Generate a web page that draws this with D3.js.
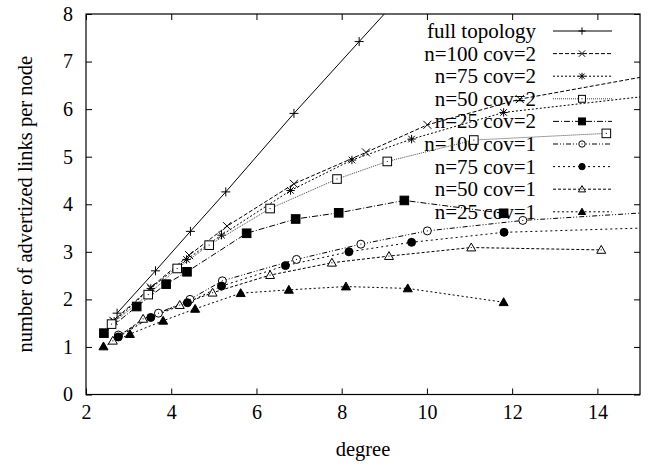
<!DOCTYPE html>
<html>
<head>
<meta charset="utf-8">
<script src="https://cdn.jsdelivr.net/npm/d3@7/dist/d3.min.js"></script>
<style>
  html, body { margin: 0; padding: 0; background: #fff; }
  text { font-family: "Liberation Serif", "Tinos", "Times New Roman", "DejaVu Serif", "Noto Serif", serif; fill: #000; }
</style>
</head>
<body>
<svg id="chart" width="659" height="466"></svg>
<script>
// ---- data ----
const xTickValues = [2, 4, 6, 8, 10, 12, 14];
const yTickValues = [0, 1, 2, 3, 4, 5, 6, 7, 8];
const xLabel = "degree";
const yLabel = "number of advertized links per node";

const seriesNames = ["full topology", "n=100 cov=2", "n=75 cov=2", "n=50 cov=2", "n=25 cov=2",
                     "n=100 cov=1", "n=75 cov=1", "n=50 cov=1", "n=25 cov=1"];

const fullX = [2.73, 3.63, 4.45, 5.28, 6.88, 8.41, 10.2];
const fullY = [1.71, 2.60, 3.43, 4.26, 5.91, 7.42, 9.18];

const n100c2X = [2.64, 3.52, 4.42, 5.31, 6.88, 8.57, 10.01, 12.18, 16.5];
const n100c2Y = [1.55, 2.25, 2.93, 3.54, 4.43, 5.09, 5.67, 6.21, 6.91];

const n75c2X = [2.66, 3.52, 4.36, 5.18, 6.80, 8.24, 9.64, 11.80, 16.5];
const n75c2Y = [1.54, 2.23, 2.84, 3.35, 4.29, 4.93, 5.37, 5.93, 6.41];

const n50c2X = [2.60, 3.46, 4.14, 4.89, 6.32, 7.89, 9.07, 11.10, 14.21];
const n50c2Y = [1.48, 2.10, 2.65, 3.14, 3.91, 4.53, 4.90, 5.35, 5.49];

const n25c2X = [2.42, 3.19, 3.88, 4.37, 5.77, 6.92, 7.93, 9.47, 11.80];
const n25c2Y = [1.29, 1.85, 2.32, 2.58, 3.39, 3.69, 3.82, 4.08, 3.81];

const n100c1X = [2.76, 3.70, 4.44, 5.20, 6.94, 8.45, 10.01, 12.25, 16.5];
const n100c1Y = [1.25, 1.71, 2.00, 2.39, 2.84, 3.16, 3.44, 3.66, 3.90];

const n75c1X = [2.76, 3.52, 4.38, 5.18, 6.68, 8.17, 9.64, 11.81, 16.5];
const n75c1Y = [1.21, 1.62, 1.93, 2.28, 2.71, 3.00, 3.20, 3.41, 3.54];

const n50c1X = [2.63, 3.34, 4.20, 4.97, 6.32, 7.77, 9.11, 11.04, 14.09];
const n50c1Y = [1.13, 1.59, 1.88, 2.14, 2.51, 2.77, 2.91, 3.09, 3.04];

const n25c1X = [2.41, 3.03, 3.81, 4.56, 5.63, 6.76, 8.10, 9.55, 11.80];
const n25c1Y = [1.01, 1.27, 1.55, 1.80, 2.13, 2.20, 2.27, 2.23, 1.94];

const seriesX = [fullX, n100c2X, n75c2X, n50c2X, n25c2X, n100c1X, n75c1X, n50c1X, n25c1X];
const seriesY = [fullY, n100c2Y, n75c2Y, n50c2Y, n25c2Y, n100c1Y, n75c1Y, n50c1Y, n25c1Y];

// ---- styles ----
const markerTypes = ["plus", "cross", "star", "square", "squareFilled", "circle", "circleFilled", "triangle", "triangleFilled"];
const dashes = ["none", "4,2", "2,2", "1,1", "6,2,1,2", "5,2,1,2,1,2", "2,3", "3,2", "2,2.5"];
const strokes = ["#000", "#000", "#000", "#444", "#000", "#000", "#000", "#000", "#000"];
const FONT = '"Liberation Serif", "Tinos", "Times New Roman", "DejaVu Serif", "Noto Serif", serif';

// ---- layout ----
const M = { left: 86, right: 640, top: 14, bottom: 394.5 };
const svg = d3.select("#chart");
svg.append("rect").attr("width", 659).attr("height", 466).attr("fill", "#fff");

const x = d3.scaleLinear().domain([2, 15]).range([M.left, M.right]);
const y = d3.scaleLinear().domain([0, 8]).range([M.bottom, M.top]);

svg.append("clipPath").attr("id", "plotclip")
  .append("rect").attr("x", M.left).attr("y", M.top)
  .attr("width", M.right - M.left).attr("height", M.bottom - M.top);

// axes with inward ticks (and mirrored)
const tickLen = 6;
const fontTick = 20;
const gx = svg.append("g").attr("transform", `translate(0,${M.bottom})`)
  .call(d3.axisBottom(x).tickValues(xTickValues).tickSize(-tickLen).tickPadding(10).tickFormat(d3.format("d")));
const gxt = svg.append("g").attr("transform", `translate(0,${M.top})`)
  .call(d3.axisTop(x).tickValues(xTickValues).tickSize(-tickLen).tickFormat(""));
const gy = svg.append("g").attr("transform", `translate(${M.left},0)`)
  .call(d3.axisLeft(y).tickValues(yTickValues).tickSize(-tickLen).tickPadding(13).tickFormat(d3.format("d")));
const gyr = svg.append("g").attr("transform", `translate(${M.right},0)`)
  .call(d3.axisRight(y).tickValues(yTickValues).tickSize(-tickLen).tickFormat(""));
[gx, gxt, gy, gyr].forEach(g => {
  g.attr("font-family", null);
  g.select(".domain").remove();
  g.selectAll(".tick line").attr("stroke", "#000").attr("stroke-width", 1);
  g.selectAll("text").style("font-family", FONT).style("font-size", fontTick + "px").attr("fill", "#000");
});
svg.append("rect").attr("x", M.left).attr("y", M.top)
  .attr("width", M.right - M.left).attr("height", M.bottom - M.top)
  .attr("fill", "none").attr("stroke", "#000").attr("stroke-width", 1.2);

// axis titles
svg.append("text").attr("x", (M.left + M.right) / 2).attr("y", 456)
  .attr("text-anchor", "middle").style("font-family", FONT).style("font-size", "20.5px").text(xLabel);
svg.append("text").attr("transform", `translate(32,${(M.top + M.bottom) / 2}) rotate(-90)`)
  .attr("text-anchor", "middle").style("font-family", FONT).style("font-size", "20.5px").text(yLabel);

// legend text
const legendTextRight = 536, legendY0 = 31, legendDy = 22.6;
const legendLineX0 = 553, legendLineX1 = 612, legendMarkX = 582;
seriesNames.forEach((name, i) => {
  svg.append("text").attr("x", legendTextRight).attr("y", legendY0 + i * legendDy)
    .attr("dy", "0.33em").attr("text-anchor", "end").style("font-family", FONT).style("font-size", "21px").text(name);
});

// marker drawing
function marker(g, type, cx, cy, small) {
  const s = small ? 0.8 : 1;
  const stroke = "#000";
  switch (type) {
    case "plus": {
      const r = 4.5 * s;
      g.append("path").attr("d", `M${cx - r},${cy}H${cx + r}M${cx},${cy - r}V${cy + r}`)
        .attr("stroke", stroke).attr("stroke-width", 1).attr("fill", "none");
      break;
    }
    case "cross": {
      const r = 4 * s;
      g.append("path").attr("d", `M${cx - r},${cy - r}L${cx + r},${cy + r}M${cx - r},${cy + r}L${cx + r},${cy - r}`)
        .attr("stroke", stroke).attr("stroke-width", 1).attr("fill", "none");
      break;
    }
    case "star": {
      const r = 4.2 * s, q = 3.3 * s;
      g.append("path").attr("d", `M${cx - r},${cy}H${cx + r}M${cx},${cy - r}V${cy + r}M${cx - q},${cy - q}L${cx + q},${cy + q}M${cx - q},${cy + q}L${cx + q},${cy - q}`)
        .attr("stroke", stroke).attr("stroke-width", 1).attr("fill", "none");
      break;
    }
    case "square":
    case "squareFilled": {
      const r = 4.3 * s;
      g.append("rect").attr("x", cx - r).attr("y", cy - r).attr("width", 2 * r).attr("height", 2 * r)
        .attr("fill", type === "square" ? "#fff" : "#000").attr("stroke", stroke).attr("stroke-width", 1);
      if (type === "square") g.append("rect").attr("x", cx - 0.5).attr("y", cy - 0.5).attr("width", 1).attr("height", 1).attr("fill", "#000");
      break;
    }
    case "circle":
    case "circleFilled": {
      const r = 4 * s;
      g.append("circle").attr("cx", cx).attr("cy", cy).attr("r", r)
        .attr("fill", type === "circle" ? "#fff" : "#000").attr("stroke", stroke).attr("stroke-width", 1);
      if (type === "circle") g.append("rect").attr("x", cx - 0.5).attr("y", cy - 0.5).attr("width", 1).attr("height", 1).attr("fill", "#000");
      break;
    }
    case "triangle":
    case "triangleFilled": {
      const r = 4.5 * s;
      g.append("path").attr("d", `M${cx},${cy - r}L${cx + r},${cy + r * 0.75}L${cx - r},${cy + r * 0.75}Z`)
        .attr("fill", type === "triangle" ? "#fff" : "#000").attr("stroke", stroke).attr("stroke-width", 1);
      if (type === "triangle") g.append("rect").attr("x", cx - 0.5).attr("y", cy - 0.5).attr("width", 1).attr("height", 1).attr("fill", "#000");
      break;
    }
  }
}

// series lines + markers
const plot = svg.append("g").attr("clip-path", "url(#plotclip)");
const line = d3.line().x(d => x(d[0])).y(d => y(d[1]));
seriesNames.forEach((name, i) => {
  const pts = seriesX[i].map((v, j) => [v, seriesY[i][j]]);
  plot.append("path").datum(pts).attr("d", line)
    .attr("fill", "none").attr("stroke", strokes[i]).attr("stroke-width", 1)
    .attr("stroke-dasharray", dashes[i]);
  const ly = legendY0 + i * legendDy;
  svg.append("line").attr("x1", legendLineX0).attr("x2", legendLineX1).attr("y1", ly).attr("y2", ly)
    .attr("stroke", strokes[i]).attr("stroke-width", 1).attr("stroke-dasharray", dashes[i]);
});
seriesNames.forEach((name, i) => {
  const mg = plot.append("g");
  seriesX[i].forEach((v, j) => marker(mg, markerTypes[i], x(v), y(seriesY[i][j]), false));
  const ly = legendY0 + i * legendDy;
  marker(svg.append("g"), markerTypes[i], legendMarkX, ly, true);
});
</script>
</body>
</html>
